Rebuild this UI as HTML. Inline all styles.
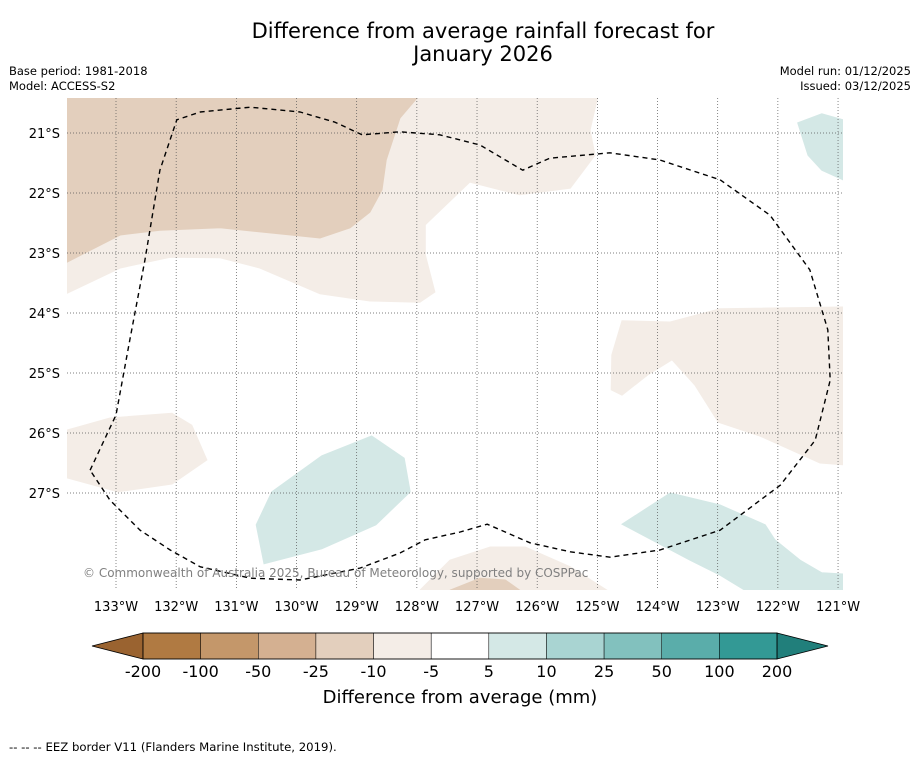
<!DOCTYPE html>
<html><head><meta charset="utf-8">
<style>
body{margin:0;background:#fff;width:919px;height:758px;overflow:hidden;font-family:"Liberation Sans","DejaVu Sans",sans-serif;}
svg{position:absolute;left:0;top:0;}
</style></head>
<body>
<svg id="chart" width="919" height="758" viewBox="0 0 919 758">
<rect width="919" height="758" fill="#fff"/>
<text x="483" y="38" font-size="21" text-anchor="middle" fill="#000" font-family="DejaVu Sans, sans-serif">Difference from average rainfall forecast for</text>
<text x="483" y="61" font-size="21" text-anchor="middle" fill="#000" font-family="DejaVu Sans, sans-serif">January 2026</text>
<text x="9" y="75" font-size="11.5" fill="#000" font-family="DejaVu Sans, sans-serif">Base period: 1981-2018</text>
<text x="9" y="90" font-size="11.5" fill="#000" font-family="DejaVu Sans, sans-serif">Model: ACCESS-S2</text>
<text x="911" y="75" font-size="11.5" fill="#000" text-anchor="end" font-family="DejaVu Sans, sans-serif">Model run: 01/12/2025</text>
<text x="911" y="90" font-size="11.5" fill="#000" text-anchor="end" font-family="DejaVu Sans, sans-serif">Issued: 03/12/2025</text>
<defs><clipPath id="mapclip"><rect x="67" y="98" width="776" height="492"/></clipPath></defs>
<g id="map" clip-path="url(#mapclip)"></g>
<g id="grid"></g>
<g id="eez" clip-path="url(#mapclip)"></g>
<text x="83" y="577" font-size="12" fill="#808080" font-family="DejaVu Sans, sans-serif">© Commonwealth of Australia 2025, Bureau of Meteorology, supported by COSPPac</text>
<g id="axes"></g>
<g id="cbar"></g>
<text x="460" y="703" font-size="18" text-anchor="middle" fill="#000" font-family="DejaVu Sans, sans-serif">Difference from average (mm)</text>
<text x="9" y="751" font-size="11.7" fill="#000" font-family="DejaVu Sans, sans-serif">--  --  -- EEZ border V11 (Flanders Marine Institute, 2019).</text>
</svg>
<script>
// ---- data ----
const lonTicks = [-133,-132,-131,-130,-129,-128,-127,-126,-125,-124,-123,-122,-121];
const latTicks = [-21,-22,-23,-24,-25,-26,-27];
const levelLabels = ["-200","-100","-50","-25","-10","-5","5","10","25","50","100","200"];
const levelColors = ["#b07a42","#c4976a","#d4b091","#e3cfbd","#f4ede7","#ffffff","#d4e8e6","#a9d4d2","#82c1be","#5aadaa","#339995"];
const extLow = "#9a6330", extHigh = "#217f7b";
const regionLight1 = [[-128.0,-20.42],[-125.0,-20.42],[-125.12,-20.95],[-125.04,-21.37],[-125.45,-21.92],[-126.29,-22.03],[-127.12,-21.82],[-127.86,-22.53],[-127.86,-23.03],[-127.70,-23.65],[-127.95,-23.82],[-128.78,-23.80],[-129.61,-23.68],[-130.61,-23.25],[-131.27,-23.08],[-132.10,-23.07],[-132.93,-23.25],[-133.81,-23.67],[-133.81,-20.42]];
const regionMid1 = [[-133.81,-20.42],[-128.0,-20.42],[-128.28,-20.75],[-128.51,-21.45],[-128.58,-21.95],[-128.78,-22.32],[-129.11,-22.58],[-129.61,-22.75],[-131.27,-22.58],[-132.27,-22.62],[-132.93,-22.70],[-133.81,-23.15]];
const regionLight2 = [[-120.92,-23.90],[-122.96,-23.93],[-123.79,-24.15],[-124.59,-24.13],[-124.76,-24.70],[-124.77,-25.28],[-124.59,-25.37],[-124.16,-25.03],[-123.76,-24.78],[-123.38,-25.20],[-122.99,-25.82],[-122.30,-26.05],[-121.30,-26.50],[-120.92,-26.53]];
const regionLight3 = [[-133.81,-25.95],[-133.10,-25.75],[-132.07,-25.67],[-131.74,-25.87],[-131.49,-26.45],[-132.07,-26.85],[-132.97,-26.98],[-133.81,-26.75]];
const regionLight4 = [[-127.95,-28.62],[-127.45,-28.12],[-126.78,-27.90],[-126.20,-27.90],[-125.45,-28.23],[-124.84,-28.62]];
const regionMid2 = [[-127.45,-28.62],[-126.95,-28.42],[-126.53,-28.45],[-126.29,-28.62]];
const regionTeal1 = [[-128.75,-26.05],[-128.21,-26.42],[-128.11,-26.98],[-128.68,-27.53],[-129.58,-27.93],[-130.54,-28.18],[-130.67,-27.53],[-130.41,-26.98],[-129.58,-26.38]];
const regionTeal2 = [[-123.79,-27.0],[-122.96,-27.2],[-122.21,-27.53],[-122.05,-27.78],[-121.63,-28.12],[-121.27,-28.33],[-120.92,-28.35],[-120.92,-28.62],[-122.55,-28.62],[-122.96,-28.37],[-123.46,-28.12],[-124.59,-27.52]];
const regionTeal3 = [[-121.67,-20.83],[-121.27,-20.68],[-120.92,-20.78],[-120.92,-21.78],[-121.27,-21.62],[-121.50,-21.37]];
const eezLine = [[-133.43,-26.62],[-133.0,-25.70],[-132.77,-24.45],[-132.52,-23.12],[-132.27,-21.62],[-131.99,-20.78],[-131.60,-20.65],[-130.77,-20.57],[-129.94,-20.65],[-129.36,-20.82],[-128.91,-21.03],[-128.28,-20.98],[-127.62,-21.03],[-126.95,-21.20],[-126.24,-21.62],[-125.79,-21.42],[-124.79,-21.33],[-123.96,-21.45],[-122.96,-21.78],[-122.13,-22.37],[-121.47,-23.28],[-121.17,-24.28],[-121.13,-25.12],[-121.38,-26.12],[-121.96,-26.87],[-122.96,-27.62],[-123.96,-27.95],[-124.79,-28.07],[-125.45,-27.98],[-126.12,-27.83],[-126.83,-27.52],[-127.28,-27.65],[-127.86,-27.78],[-128.28,-28.0],[-128.94,-28.25],[-129.94,-28.45],[-130.77,-28.42],[-131.60,-28.23],[-132.10,-27.95],[-132.60,-27.62],[-133.10,-27.12],[-133.43,-26.62]];

const NS="http://www.w3.org/2000/svg";
const xOf = lon => 116 + (lon + 133) * 60.17;
const yOf = lat => 133 + (-21 - lat) * 60;
function mk(tag, attrs, parent){const e=document.createElementNS(NS,tag);for(const k in attrs)e.setAttribute(k,attrs[k]);parent.appendChild(e);return e;}
const pts = arr => arr.map(p=>xOf(p[0]).toFixed(1)+","+yOf(p[1]).toFixed(1)).join(" ");

const map=document.getElementById('map');
const regions=[[regionLight1,4,'region-light-north'],[regionMid1,3,'region-mid-northwest'],[regionLight2,4,'region-light-east'],[regionLight3,4,'region-light-west'],[regionLight4,4,'region-light-south'],[regionMid2,3,'region-mid-south'],[regionTeal1,6,'region-teal-southwest'],[regionTeal2,6,'region-teal-southeast'],[regionTeal3,6,'region-teal-northeast']];
regions.forEach(r=>{
  const p=mk('polygon',{points:pts(r[0]),fill:levelColors[r[1]],stroke:levelColors[r[1]],'stroke-width':1},map);
  
  
});

const grid=document.getElementById('grid'), axes=document.getElementById('axes');
lonTicks.forEach(l=>{
  const x=xOf(l);
  const g=mk('line',{x1:x,x2:x,y1:98,y2:590,stroke:'#555','stroke-width':0.7,'stroke-dasharray':'1,2'},grid);
  
  
  const t=mk('text',{x:x,y:611,'font-size':13,'text-anchor':'middle','font-family':'DejaVu Sans, sans-serif'},axes);
  t.textContent=Math.abs(l)+"°W";
  
  
});
latTicks.forEach(l=>{
  const y=yOf(l);
  const g=mk('line',{x1:67,x2:843,y1:y,y2:y,stroke:'#555','stroke-width':0.7,'stroke-dasharray':'1,2'},grid);
  
  
  const t=mk('text',{x:60,y:y+5,'font-size':13,'text-anchor':'end','font-family':'DejaVu Sans, sans-serif'},axes);
  t.textContent=Math.abs(l)+"°S";
  
  
});

const eez=document.getElementById('eez');
const e=mk('polyline',{points:pts(eezLine),fill:'none',stroke:'#000','stroke-width':1.4,'stroke-dasharray':'5,4','stroke-linejoin':'round'},eez);



const cb=document.getElementById('cbar');
const cx0=143, cx1=777, cy0=633, cy1=659, n=levelColors.length, w=(cx1-cx0)/n;
const lt=mk('polygon',{points:`${cx0},${cy0} 92,646 ${cx0},${cy1}`,fill:extLow,stroke:'#000','stroke-width':0.8},cb);


const rt=mk('polygon',{points:`${cx1},${cy0} 828,646 ${cx1},${cy1}`,fill:extHigh,stroke:'#000','stroke-width':0.8},cb);


levelColors.forEach((c,i)=>{
  const r=mk('rect',{x:cx0+i*w,y:cy0,width:w,height:cy1-cy0,fill:c,stroke:'#000','stroke-width':0.5},cb);
  
  
});
mk('rect',{x:cx0,y:cy0,width:cx1-cx0,height:cy1-cy0,fill:'none',stroke:'#000','stroke-width':0.8},cb);
levelLabels.forEach((s,i)=>{
  const t=mk('text',{x:cx0+i*w,y:677,'font-size':16,'text-anchor':'middle','font-family':'DejaVu Sans, sans-serif'},cb);
  t.textContent=s;
  
  
});
</script>
</body></html>
